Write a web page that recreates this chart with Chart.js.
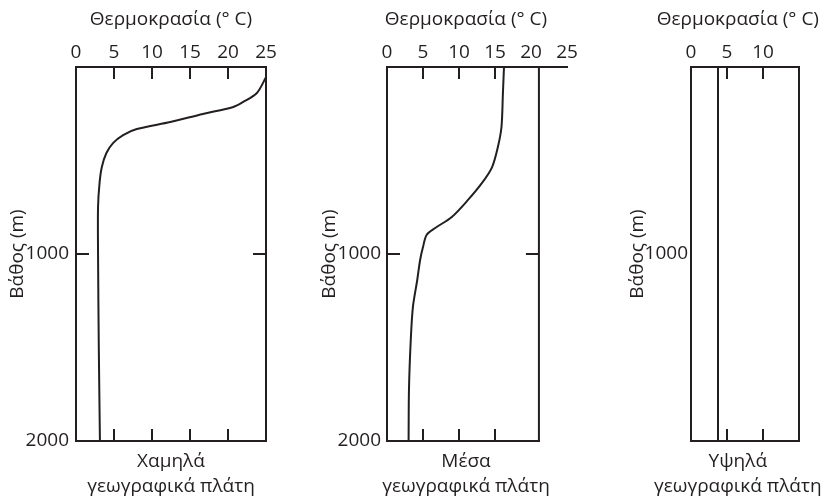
<!DOCTYPE html>
<html>
<head>
<meta charset="utf-8">
<script src="https://cdn.jsdelivr.net/npm/chart.js@4"></script>
<style>
  html, body { margin: 0; padding: 0; background: #ffffff; }
  body { width: 822px; height: 499px; position: relative; overflow: hidden; }
  canvas { position: absolute; top: 0; }
</style>
</head>
<body>
<canvas id="c1" width="290" height="499" style="left:0px"></canvas>
<canvas id="c2" width="310" height="499" style="left:290px"></canvas>
<canvas id="c3" width="222" height="499" style="left:600px"></canvas>
<script>
// ---------- data ----------
const xTitle = 'Θερμοκρασία (° C)';
const yTitle = 'Βάθος (m)';
const panelNames = [
  ['Χαμηλά', 'γεωγραφικά πλάτη'],
  ['Μέσα', 'γεωγραφικά πλάτη'],
  ['Υψηλά', 'γεωγραφικά πλάτη']
];
const tempTicks = [0, 5, 10, 15, 20, 25];
const depthTicks = [0, 1000, 2000];

// low latitudes
const lowDepth = [55, 139, 187, 214, 251, 294, 332, 364, 406, 460, 535, 620, 749, 1000, 1500, 2000];
const lowTemp  = [25, 23.8, 22.0, 20.7, 16.7, 12.4, 8.0, 6.2, 4.9, 4.0, 3.4, 3.1, 2.9, 2.9, 3.0, 3.15];
// middle latitudes
const midDepth = [0, 139, 321, 428, 535, 620, 711, 802, 861, 898, 963, 1032, 1139, 1283, 1460, 1727, 2000];
const midTemp  = [16.25, 16.1, 15.9, 15.4, 14.6, 13.2, 11.25, 9.0, 6.7, 5.5, 5.0, 4.6, 4.2, 3.6, 3.3, 3.05, 3.0];
// high latitudes
const highDepth = [0, 2000];
const highTemp  = [3.75, 3.75];

// ---------- styling / layout ----------
const INK = '#231f20';
const FONT = { family: '"Open Sans", "Noto Sans", sans-serif', size: 19 };

const framePlugin = {
  id: 'frame',
  afterDatasetsDraw(chart, args, o) {
    const { ctx, chartArea: ca, scales: { x, y } } = chart;
    ctx.save();
    ctx.strokeStyle = INK;
    ctx.lineWidth = 2;
    ctx.lineCap = 'square';
    const seg = (x1, y1, x2, y2) => { ctx.beginPath(); ctx.moveTo(x1, y1); ctx.lineTo(x2, y2); ctx.stroke(); };
    const xr = x.getPixelForValue(o.boxMax);
    seg(xr, ca.top, xr, ca.bottom);
    seg(ca.left, ca.bottom, xr, ca.bottom);
    ctx.lineCap = 'butt';
    o.xMarks.forEach(v => {
      const px = x.getPixelForValue(v);
      seg(px, ca.top, px, ca.top + 12);
      seg(px, ca.bottom, px, ca.bottom - 12);
    });
    o.yMarks.forEach(v => {
      const py = y.getPixelForValue(v);
      seg(ca.left, py, ca.left + 13, py);
      seg(xr, py, xr - 13, py);
    });
    ctx.fillStyle = INK;
    ctx.font = FONT.size + 'px ' + FONT.family;
    ctx.textAlign = 'center';
    ctx.textBaseline = 'middle';
    const cx = x.getPixelForValue(o.textAt);
    ctx.fillText(xTitle, cx, ca.top - 47);
    o.names.forEach((t, i) => ctx.fillText(t, cx, ca.bottom + 21 + 25 * i));
    ctx.restore();
  }
};

function makePanel(id, depth, temp, cfg) {
  const pts = depth.map((d, i) => ({ x: temp[i], y: d }));
  return new Chart(document.getElementById(id), {
    type: 'line',
    data: {
      datasets: [{
        data: pts,
        borderColor: INK,
        borderWidth: 2,
        pointRadius: 0,
        fill: false,
        tension: 0.3
      }]
    },
    plugins: [framePlugin],
    options: {
      indexAxis: 'y',
      responsive: false,
      animation: false,
      events: [],
      layout: { padding: { left: cfg.padLeft, right: cfg.padRight, top: 0, bottom: 0 } },
      plugins: {
        legend: { display: false },
        tooltip: { enabled: false },
        frame: { boxMax: cfg.boxMax, xMarks: cfg.xMarks, yMarks: cfg.yMarks, textAt: cfg.textAt, names: cfg.names }
      },
      scales: {
        x: {
          type: 'linear', position: 'top', min: 0, max: cfg.xMax,
          afterBuildTicks: s => { s.ticks = tempTicks.filter(v => v <= cfg.xLabelMax).map(v => ({ value: v })); },
          ticks: { autoSkip: false, maxRotation: 0, padding: 3, font: FONT, color: INK, callback: v => String(v) },
          grid: { display: false, drawTicks: false },
          border: { display: true, color: INK, width: 2 },
          afterFit: s => { s.height = 67; }
        },
        x2: {
          type: 'linear', position: 'bottom', display: true, min: 0, max: cfg.xMax,
          ticks: { display: false },
          grid: { display: false, drawTicks: false },
          border: { display: false },
          afterFit: s => { s.height = 58; }
        },
        y: {
          type: 'linear', position: 'left', reverse: true, min: 0, max: 2000,
          afterBuildTicks: s => { s.ticks = depthTicks.filter(v => cfg.yLabels.includes(v)).map(v => ({ value: v })); },
          ticks: { padding: cfg.yPad, font: FONT, color: INK, callback: v => String(v) },
          grid: { display: false, drawTicks: false },
          border: { display: true, color: INK, width: 2 },
          title: { display: true, text: yTitle, font: FONT, color: INK, padding: { top: 6, bottom: 0 } },
          afterFit: s => { s.width = cfg.yWidth; }
        }
      }
    }
  });
}

makePanel('c1', lowDepth, lowTemp, {
  padLeft: 0, padRight: 24, yWidth: 76, yPad: 7, xMax: 25, xLabelMax: 25, boxMax: 25,
  xMarks: [5, 10, 15, 20], yMarks: [1000], yLabels: [1000, 2000], textAt: 12.5, names: panelNames[0]
});
makePanel('c2', midDepth, midTemp, {
  padLeft: 22, padRight: 33, yWidth: 75, yPad: 6, xMax: 25, xLabelMax: 25, boxMax: 21.1,
  xMarks: [5, 10, 15], yMarks: [1000], yLabels: [1000, 2000], textAt: 10.97, names: panelNames[1]
});
makePanel('c3', highDepth, highTemp, {
  padLeft: 20, padRight: 23, yWidth: 71, yPad: 3, xMax: 15, xLabelMax: 10, boxMax: 15,
  xMarks: [5, 10], yMarks: [], yLabels: [1000], textAt: 6.5, names: panelNames[2]
});
</script>
</body>
</html>
